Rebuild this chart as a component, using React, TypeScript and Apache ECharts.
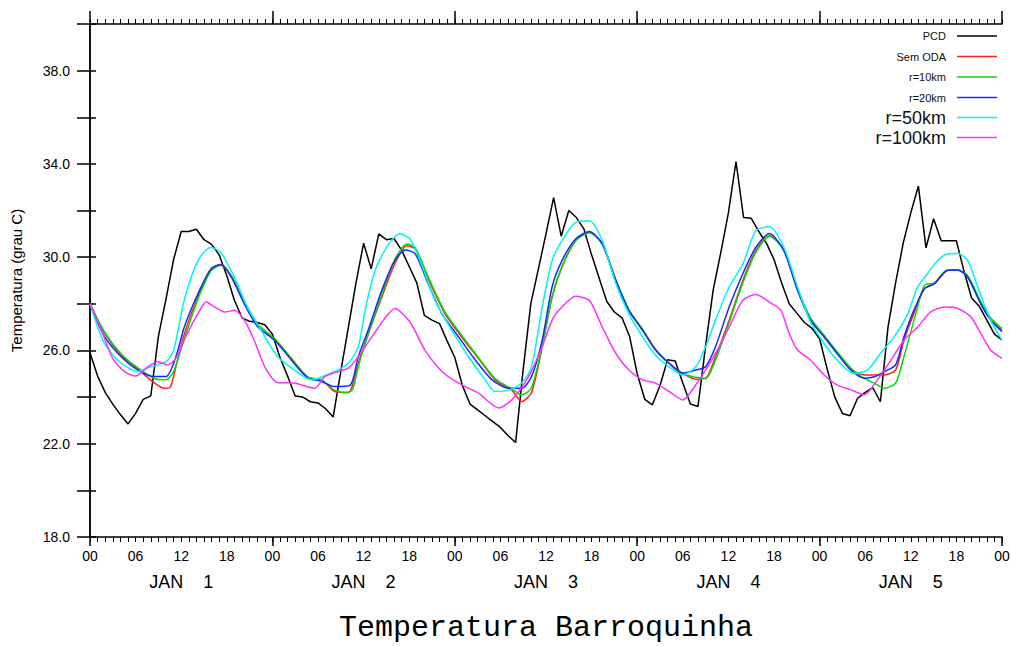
import React, { useEffect, useRef } from "react";
import * as echarts from "echarts";

const seriesNames = ["PCD", "Sem ODA", "r=10km", "r=20km", "r=50km", "r=100km"];
const seriesColors = ["#000000", "#ff2020", "#00dd00", "#1428ff", "#00f4f4", "#ff30ff"];
const legendFontSizes = [11, 11, 11, 11, 18, 18];

const dayLabels = ["JAN    1", "JAN    2", "JAN    3", "JAN    4", "JAN    5"];
const yTickLabels = ["18.0", "22.0", "26.0", "30.0", "34.0", "38.0"];

// PCD observed, hourly from hour 0 to 120
const pcdValues = [
  25.9, 24.9, 24.2, 23.7, 23.25, 22.85, 23.3, 23.9, 24.05, 26.6, 28.2, 29.9, 31.1, 31.1, 31.2, 30.75, 30.55, 30.1, 29.2, 28.15, 27.4, 27.25, 27.2, 27.1,
  26.7, 25.7, 24.9, 24.05, 24.0, 23.8, 23.75, 23.5, 23.15, 25.1, 27.0, 28.9, 30.6, 29.5, 31.0, 30.75, 30.8, 30.3, 29.6, 28.9, 27.5, 27.3, 27.15, 26.4,
  25.7, 24.5, 23.7, 23.45, 23.2, 22.95, 22.7, 22.35, 22.05, 25.2, 28.0, 29.5, 31.0, 32.55, 30.9, 32.0, 31.7, 31.2, 30.1, 29.1, 28.1, 27.65, 27.4, 26.6,
  25.0, 23.9, 23.67, 24.5, 25.6, 25.55, 24.6, 23.7, 23.6, 26.2, 28.6, 30.2, 31.9, 34.1, 31.7, 31.67, 31.1, 30.6, 29.9, 28.9, 28.0, 27.6, 27.2, 26.95,
  26.5, 25.2, 24.0, 23.3, 23.2, 23.95, 24.2, 24.4, 23.8, 27.0, 28.9, 30.6, 31.9, 33.05, 30.4, 31.65, 30.7, 30.7, 30.7, 29.4, 28.25, 27.9, 27.3, 26.7,
  26.45,
];

// [hour, temperature]
const semOda = [
  [0, 28.0], [1.9, 26.75], [4.1, 25.8], [6.3, 25.2], [8.5, 24.6], [9.8, 24.38], [10.5, 24.4], [11.3, 25.3], [12.4, 26.7], [14.2, 28.3], [15.9, 29.45],
  [17.2, 29.7], [18.6, 29.2], [20.3, 28.1], [22.1, 27.1], [24.3, 26.5], [26.5, 25.65], [28.7, 24.85], [30.5, 24.74], [32.2, 24.24], [34, 24.2],
  [35.3, 25.45], [36.6, 26.7], [38.4, 28.29], [40.1, 29.71], [41.7, 30.49], [42.8, 30.35], [44.5, 29.07], [46.7, 27.58], [48.9, 26.58], [51.1, 25.66],
  [53.3, 24.74], [55.5, 24.3], [56.8, 23.81], [58.1, 24.2], [59.5, 26.16], [60.8, 28.29], [62.1, 29.57], [63.9, 30.71], [65.7, 31.07], [67.4, 30.57],
  [69.2, 29.0], [70.9, 27.72], [72.7, 26.9], [74.4, 26.05], [76.2, 25.45], [78, 25.02], [79.7, 24.77], [81, 24.8], [82.3, 25.73], [84.1, 27.3],
  [85.9, 29.0], [87.6, 30.28], [89.4, 30.92], [91.3, 30.3], [93.1, 28.6], [94.8, 27.35], [96.6, 26.6], [98.3, 25.9], [100.1, 25.2], [101.9, 24.95],
  [104.5, 24.95], [106, 25.16], [107.1, 26.44], [108.4, 27.58], [109.8, 28.65], [111.1, 28.86], [112.8, 29.43], [114.2, 29.45], [115.5, 29.14],
  [117.2, 28.05], [118.5, 27.35], [120, 26.87],
];

const r10km = [
  [0, 28.0], [1.9, 26.8], [4.1, 25.85], [6.3, 25.25], [8.5, 24.8], [10, 24.74], [11, 25.1], [12.4, 26.5], [14.2, 28.2], [15.9, 29.4], [17.2, 29.65],
  [18.6, 29.2], [20.3, 28.1], [22.1, 27.1], [24.3, 26.5], [26.5, 25.65], [28.7, 24.85], [30.5, 24.74], [32.2, 24.3], [33.5, 24.2], [34.5, 24.3],
  [35.3, 25.3], [36.6, 26.7], [38.4, 28.4], [40.1, 29.9], [41.7, 30.57], [42.8, 30.4], [44.5, 29.15], [46.7, 27.65], [48.9, 26.65], [51.1, 25.7],
  [53.3, 24.8], [55.5, 24.35], [56.8, 24.1], [58.1, 24.4], [59.5, 26.2], [60.8, 28.3], [62.1, 29.6], [63.9, 30.7], [65.7, 31.05], [67.4, 30.57],
  [69.2, 29.0], [70.9, 27.75], [72.7, 26.9], [74.4, 26.05], [76.2, 25.45], [78, 25.0], [79.7, 24.85], [81, 24.8], [82.3, 25.59], [84.1, 27.2],
  [85.9, 28.9], [87.6, 30.2], [89.4, 30.9], [91.3, 30.3], [93.1, 28.65], [94.8, 27.4], [96.6, 26.65], [98.3, 25.95], [100.1, 25.25], [101.9, 24.8],
  [103.2, 24.6], [104.5, 24.38], [106, 24.6], [107.1, 25.73], [108.9, 27.86], [109.8, 28.8], [111.1, 28.9], [112.8, 29.45], [114.2, 29.45],
  [115.5, 29.2], [117.2, 28.1], [118.5, 27.4], [120, 26.94],
];

const r20km = [
  [0, 28.0], [1.9, 26.6], [4.1, 25.73], [6.3, 25.16], [8.5, 24.88], [10, 24.88], [11.3, 25.73], [12.4, 27.0], [14.2, 28.43], [15.9, 29.5],
  [17.2, 29.68], [18.6, 29.14], [20.3, 28.0], [22.1, 27.0], [24.3, 26.44], [26.5, 25.59], [28.7, 24.8], [30.2, 24.7], [32.2, 24.45], [34.2, 24.5],
  [35.3, 25.73], [36.6, 26.87], [38.4, 28.58], [40.1, 29.85], [41.5, 30.31], [42.8, 30.14], [44.5, 28.86], [46.3, 27.58], [48.5, 26.58],
  [50.7, 25.59], [52.9, 24.74], [55.1, 24.38], [56.8, 24.38], [58.1, 24.88], [59.5, 26.44], [60.8, 28.72], [62.1, 29.85], [63.9, 30.78],
  [65.7, 31.1], [67.4, 30.57], [69.2, 29.0], [70.9, 27.72], [72.7, 26.87], [74.4, 26.02], [76.2, 25.45], [78, 25.02], [79.7, 25.16], [81, 25.3],
  [82.3, 26.16], [84.1, 27.86], [85.9, 29.29], [87.6, 30.42], [89.4, 31.02], [91.3, 30.28], [93.1, 28.58], [94.8, 27.3], [96.6, 26.58],
  [98.3, 25.87], [100.1, 25.16], [101.9, 24.81], [103.2, 24.87], [104.5, 25.09], [106, 25.38], [107.1, 26.58], [108.4, 27.72], [109.8, 28.65],
  [111.1, 28.86], [112.8, 29.43], [114.2, 29.45], [115.5, 29.14], [117.2, 28.0], [118.5, 27.3], [120, 26.8],
];

const r50km = [
  [0, 28.0], [1.9, 26.3], [4.1, 25.45], [6.3, 25.1], [8, 25.3], [10, 25.52], [11, 26.0], [12.4, 28.15], [14.2, 29.85], [15.9, 30.42], [17.2, 30.21],
  [19, 29.14], [20.7, 27.86], [22.5, 26.87], [24.7, 25.73], [26.9, 25.16], [29.1, 24.74], [32.2, 25.1], [34, 25.45], [35.3, 26.16], [36.2, 27.72],
  [37.5, 29.43], [39.3, 30.57], [40.8, 31.0], [42.1, 30.78], [43.6, 29.71], [45.4, 28.15], [47.6, 26.87], [49.8, 25.73], [52, 24.74], [53.3, 24.24],
  [55.1, 24.3], [56.8, 24.6], [58.1, 25.3], [59.5, 27.86], [60.8, 29.85], [62.1, 30.71], [63.9, 31.49], [65.7, 31.56], [67.4, 30.71], [69.2, 28.86],
  [70.9, 27.58], [72.7, 26.58], [74.4, 25.8], [76.2, 25.3], [78, 24.95], [79.7, 25.3], [81, 26.16], [82.3, 27.3], [84.1, 28.72], [85.9, 29.71],
  [87.6, 31.13], [89.4, 31.3], [91.3, 30.42], [93.1, 28.72], [94.8, 27.22], [96.6, 26.3], [98.3, 25.59], [100.5, 25.02], [102.3, 25.16], [104, 25.87],
  [105.8, 26.58], [107.6, 27.58], [108.9, 28.72], [110.2, 29.29], [111.5, 29.85], [112.8, 30.14], [114.2, 30.16], [115.5, 29.85], [116.8, 28.72],
  [118.5, 27.3], [120, 26.44],
];

const r100km = [
  [0, 28.0], [1.5, 26.87], [3, 25.66], [4.5, 25.1], [6, 24.9], [7.6, 25.3], [8.9, 25.52], [10.2, 25.38], [11.3, 25.66], [12.8, 26.73], [14.2, 27.58],
  [15.3, 28.08], [16.4, 27.86], [17.7, 27.65], [19, 27.72], [20.3, 27.3], [21.6, 26.44], [23, 25.3], [24.7, 24.62], [26.9, 24.6], [28.7, 24.43],
  [29.6, 24.38], [30.9, 24.88], [32.7, 25.1], [34, 25.24], [35.3, 25.73], [37.1, 26.58], [38.6, 27.3], [40.1, 27.8], [42.1, 27.22], [44.1, 26.0],
  [46.3, 25.1], [48.5, 24.6], [51.1, 24.17], [53.8, 23.53], [55.5, 23.88], [57.7, 24.88], [59.5, 26.16], [60.8, 27.3], [62.1, 27.86], [63.9, 28.32],
  [65.7, 28.15], [67.4, 27.0], [69.2, 25.87], [70.9, 25.16], [72.7, 24.74], [74.4, 24.6], [76.2, 24.24], [78, 23.88], [79.7, 24.52], [81, 25.16],
  [82.3, 25.87], [84.1, 27.0], [85.9, 28.15], [87.6, 28.4], [89.6, 28.03], [90.9, 27.72], [92, 26.73], [93.1, 26.02], [94.8, 25.59], [96.6, 24.95],
  [98.3, 24.52], [100.1, 24.31], [101.9, 24.1], [103.6, 24.74], [105.4, 25.59], [107.1, 26.44], [108.9, 27.0], [110.6, 27.65], [112.4, 27.86],
  [114.2, 27.8], [115.9, 27.44], [117.2, 26.73], [118.5, 26.02], [120, 25.66],
];

const FONT = "Liberation Sans";

export default function App() {
  const ref = useRef<HTMLDivElement>(null);

  useEffect(() => {
    if (!ref.current) return;
    const chart = echarts.init(ref.current, null, { renderer: "svg" });

    const pcdData = pcdValues.map((v, i) => [i, v]);
    const modelData = [semOda, r10km, r20km, r50km, r100km];
    const allData = [pcdData, ...modelData];

    const pad2 = (n: number) => (n < 10 ? "0" + n : "" + n);
    const axisBase = {
      type: "value",
      min: 0,
      max: 120,
      splitLine: { show: false },
      gridIndex: 0,
    };

    const legendGraphics: any[] = [];
    const legendY = [36, 56.5, 77, 97.5, 117.5, 137.5];
    seriesNames.forEach((name, i) => {
      legendGraphics.push({
        type: "text",
        x: 946,
        y: legendY[i],
        style: {
          text: name,
          font: `${legendFontSizes[i]}px ${FONT}`,
          fill: "#111",
          align: "right",
          verticalAlign: "middle",
        },
      });
      legendGraphics.push({
        type: "line",
        shape: { x1: 957, y1: legendY[i], x2: 997, y2: legendY[i] },
        style: { stroke: seriesColors[i], lineWidth: 1.5 },
      });
    });
    legendGraphics.push({
      type: "text",
      x: 546,
      y: 628,
      style: {
        text: "Temperatura Barroquinha",
        font: "30px Liberation Mono",
        fill: "#000",
        align: "center",
        verticalAlign: "middle",
      },
    });

    const option: any = {
      animation: false,
      backgroundColor: "#ffffff",
      grid: { left: 90, right: 9, top: 24, bottom: 109, outerBoundsMode: "none", containLabel: false },
      xAxis: [
        {
          ...axisBase,
          position: "bottom",
          interval: 6,
          axisLine: { show: true, lineStyle: { color: "#000", width: 1.5 } },
          axisTick: { show: true, length: 5, lineStyle: { color: "#000" } },
          minorTick: { show: true, splitNumber: 6, length: 5, lineStyle: { color: "#000" } },
          axisLabel: {
            margin: 12,
            fontFamily: FONT,
            fontSize: 14,
            color: "#000",
            showMaxLabel: true,
            showMinLabel: true,
            formatter: (v: number) => pad2(v % 24),
          },
        },
        {
          ...axisBase,
          position: "bottom",
          interval: 24,
          axisLine: { show: false },
          axisTick: { show: true, length: 9, lineStyle: { color: "#000", width: 1.5 } },
          axisLabel: { show: false },
        },
        {
          ...axisBase,
          position: "bottom",
          interval: 12,
          axisLine: { show: false },
          axisTick: { show: false },
          axisLabel: {
            margin: 36,
            fontFamily: FONT,
            fontSize: 18,
            color: "#000",
            formatter: (v: number) => (v % 24 === 12 ? dayLabels[Math.floor(v / 24)] : ""),
          },
        },
        {
          ...axisBase,
          position: "top",
          interval: 6,
          axisLine: { show: true, lineStyle: { color: "#000", width: 1.5 } },
          axisTick: { show: true, length: 5, lineStyle: { color: "#000" } },
          minorTick: { show: true, splitNumber: 6, length: 5, lineStyle: { color: "#000" } },
          axisLabel: { show: false },
        },
        {
          ...axisBase,
          position: "top",
          interval: 24,
          axisLine: { show: false },
          axisTick: { show: true, length: 13, lineStyle: { color: "#000", width: 1.5 } },
          axisLabel: { show: false },
        },
      ],
      yAxis: [
        {
          type: "value",
          position: "left",
          min: 18,
          max: 40,
          interval: 2,
          splitLine: { show: false },
          axisLine: { show: true, lineStyle: { color: "#000", width: 1.5 } },
          axisTick: { show: true, length: 13, lineStyle: { color: "#000", width: 1.5 } },
          axisLabel: {
            margin: 20,
            fontFamily: FONT,
            fontSize: 14,
            color: "#000",
            formatter: (v: number) => {
              const s = v.toFixed(1);
              return yTickLabels.includes(s) ? s : "";
            },
          },
          name: "Temperatura (grau C)",
          nameLocation: "middle",
          nameGap: 66,
          nameRotate: 90,
          nameTextStyle: { fontFamily: FONT, fontSize: 15, color: "#000" },
        },
        {
          type: "value",
          position: "right",
          min: 18,
          max: 40,
          interval: 2,
          splitLine: { show: false },
          axisLine: { show: true, lineStyle: { color: "#000", width: 1.5 } },
          axisTick: { show: true, length: 6, lineStyle: { color: "#000", width: 1.5 } },
          axisLabel: { show: false },
        },
      ],
      series: allData.map((d, i) => ({
        name: seriesNames[i],
        type: "line",
        xAxisIndex: 0,
        yAxisIndex: 0,
        data: d,
        showSymbol: false,
        symbol: "none",
        smooth: i === 0 ? false : 0.25,
        lineStyle: { color: seriesColors[i], width: 1.5 },
        itemStyle: { color: seriesColors[i] },
        z: 2 + i,
      })),
      graphic: legendGraphics,
    };

    chart.setOption(option);
    return () => chart.dispose();
  }, []);

  return <div ref={ref} style={{ position: "absolute", left: 0, top: 0, width: 1011, height: 646 }} />;
}
